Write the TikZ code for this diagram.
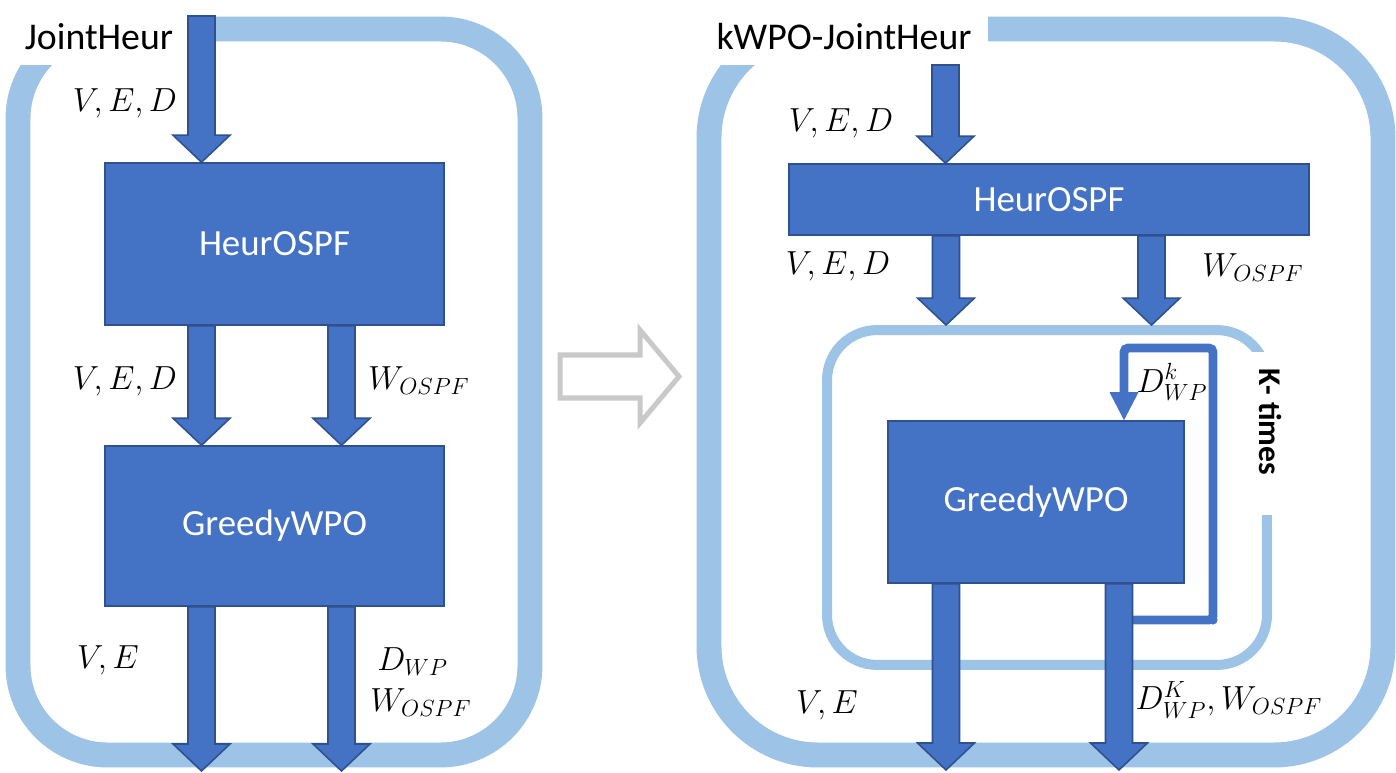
\documentclass[tikz,border=0pt]{standalone}
\usepackage{fix-cm}
\usepackage{fontspec}
\newfontfamily\calib{Carlito}
\usetikzlibrary{calc}
\definecolor{boxblue}{HTML}{4472C4}
\definecolor{edgeblue}{HTML}{2F528F}
\definecolor{lightblue}{HTML}{9DC3E6}
\definecolor{hollowgray}{HTML}{C9C9C9}
\tikzset{
  frame/.style={draw=lightblue, line width=14.2pt},
  innerframe/.style={draw=lightblue, line width=5.7pt, rounded corners=28.5pt},
  procbox/.style={draw=edgeblue, fill=boxblue, line width=0.9pt, text=white, inner sep=0pt,
    font=\calib\fontsize{21}{25}\selectfont},
  titlelbl/.style={inner sep=0pt, font=\calib\fontsize{21.5}{25}\selectfont},
  mathlbl/.style={inner sep=0pt, font=\fontsize{19}{23}\selectfont},
  blockarrow/.style={draw=edgeblue, fill=boxblue, line width=0.9pt, line join=miter,
    to path={let \p1=(\tikztostart), \p2=(\tikztotarget) in
      (\x1-7.68pt,\y1) -- (\x1+7.68pt,\y1) -- (\x1+7.68pt,\y2+15.37pt) -- (\x1+16.2pt,\y2+15.37pt)
      -- (\x1,\y2) -- (\x1-16.2pt,\y2+15.37pt) -- (\x1-7.68pt,\y2+15.37pt) -- cycle}},
  loopline/.style={draw=boxblue, line width=5.1pt, rounded corners=2.5pt},
  hollow/.style={draw=hollowgray, line width=2.85pt, fill=white, line join=miter}
}
\begin{document}
\begin{tikzpicture}[x=0.02cm,y=-0.02cm]
\useasboundingbox (0,0) rectangle (1396,773);
\fill[white] (0,0) rectangle (1396,773);

% ---------- left frame ----------
\draw[frame, rounded corners=51pt] (18,29) rectangle (530,755);
\fill[white] (-5,3) rectangle (214,65);
\node[titlelbl] (t1) at (99,37) {JointHeur};

% ---------- right frame ----------
\draw[frame, rounded corners=62pt] (709,29) rectangle (1383,755);
\fill[white] (686,3) rectangle (988,65);
\node[titlelbl] (t2) at (844,37) {kWPO-JointHeur};

% ---------- inner loop frame ----------
\node[innerframe, minimum width=250.4pt, minimum height=190.6pt, inner sep=0pt] (kloop) at (1047,497.5) {};
\fill[white] (1228,352) rectangle (1300,515);
\node[inner sep=0pt, rotate=-90, font=\calib\bfseries\fontsize{18}{22}\selectfont] (ktimes) at (1270,422) {K- times};

% ---------- hollow arrow ----------
\draw[hollow] (560,355) -- (640,355) -- (640,330) -- (679,376.5) -- (640,423) -- (640,398) -- (560,398) -- cycle;

% ---------- left boxes ----------
\node[procbox, minimum width=192.9pt, minimum height=92.2pt] (heur1) at (274.5,244) {HeurOSPF};
\node[procbox, minimum width=192.9pt, minimum height=91.0pt] (greedy1) at (274.5,526) {GreedyWPO};

\coordinate (colA) at (201.5,0);
\coordinate (colB) at (341.5,0);
\coordinate (in1) at (201.5,16);
\coordinate (out1) at (201.5,771);
\coordinate (out2) at (341.5,771);

\draw[blockarrow] (in1) to (heur1.north -| in1);
\draw[blockarrow] (heur1.south -| colA) to (greedy1.north -| colA);
\draw[blockarrow] (heur1.south -| colB) to (greedy1.north -| colB);
\draw[blockarrow] (greedy1.south -| colA) to (out1);
\draw[blockarrow] (greedy1.south -| colB) to (out2);

% ---------- right boxes ----------
\node[procbox, minimum width=295.9pt, minimum height=40.4pt] (heur2) at (1049,199.5) {HeurOSPF};
\node[procbox, minimum width=168.5pt, minimum height=92.2pt] (greedy2) at (1036,502) {GreedyWPO};

\coordinate (colC) at (946,0);
\coordinate (colD) at (1151.5,0);
\coordinate (colE) at (1119,0);
\coordinate (colF) at (1124,0);
\coordinate (in2) at (945.5,65);
\coordinate (out3) at (946,770);
\coordinate (out4) at (1119,770);
\coordinate (lstart) at (1130,620);

% feedback loop
\draw[loopline] (lstart) -- (1213,620) -- (1213,348) -- (1124,348) -- (1124,395);
\fill[boxblue] ($(greedy2.north -| colF)+(-14.5,-28)$) -- ($(greedy2.north -| colF)+(14.5,-28)$) -- (greedy2.north -| colF) -- cycle;
\fill[boxblue] (1213,620) circle (2.6pt);

\draw[blockarrow] (in2) to (heur2.north -| in2);
\draw[blockarrow] (heur2.south -| colC) to (kloop.north -| colC);
\draw[blockarrow] (heur2.south -| colD) to (kloop.north -| colD);
\draw[blockarrow] (greedy2.south -| colC) to (out3);
\draw[blockarrow] (greedy2.south -| colE) to (out4);

% ---------- labels left ----------
\node[mathlbl] (l1) at (125,103) {$V,E,D$};
\node[mathlbl] (l2) at (125,381) {$V,E,D$};
\node[mathlbl] (l3) at (419,381) {$W_{OSPF}$};
\node[mathlbl] (l4) at (108,660) {$V,E$};
\node[mathlbl, anchor=west] (l5) at (377,662) {$D_{WP}$};
\node[mathlbl, anchor=west] (l6) at (370,703) {$W_{OSPF}$};

% ---------- labels right ----------
\node[mathlbl] (r1) at (841,123) {$V,E,D$};
\node[mathlbl] (r2) at (838,266) {$V,E,D$};
\node[mathlbl] (r3) at (1253,268) {$W_{OSPF}$};
\node[mathlbl] (r4) at (1172,382) {$D_{WP}^{k}$};
\node[mathlbl] (r5) at (827,705) {$V,E$};
\node[mathlbl] (r6) at (1229,700) {$D_{WP}^{K},W_{OSPF}$};
\end{tikzpicture}
\end{document}
